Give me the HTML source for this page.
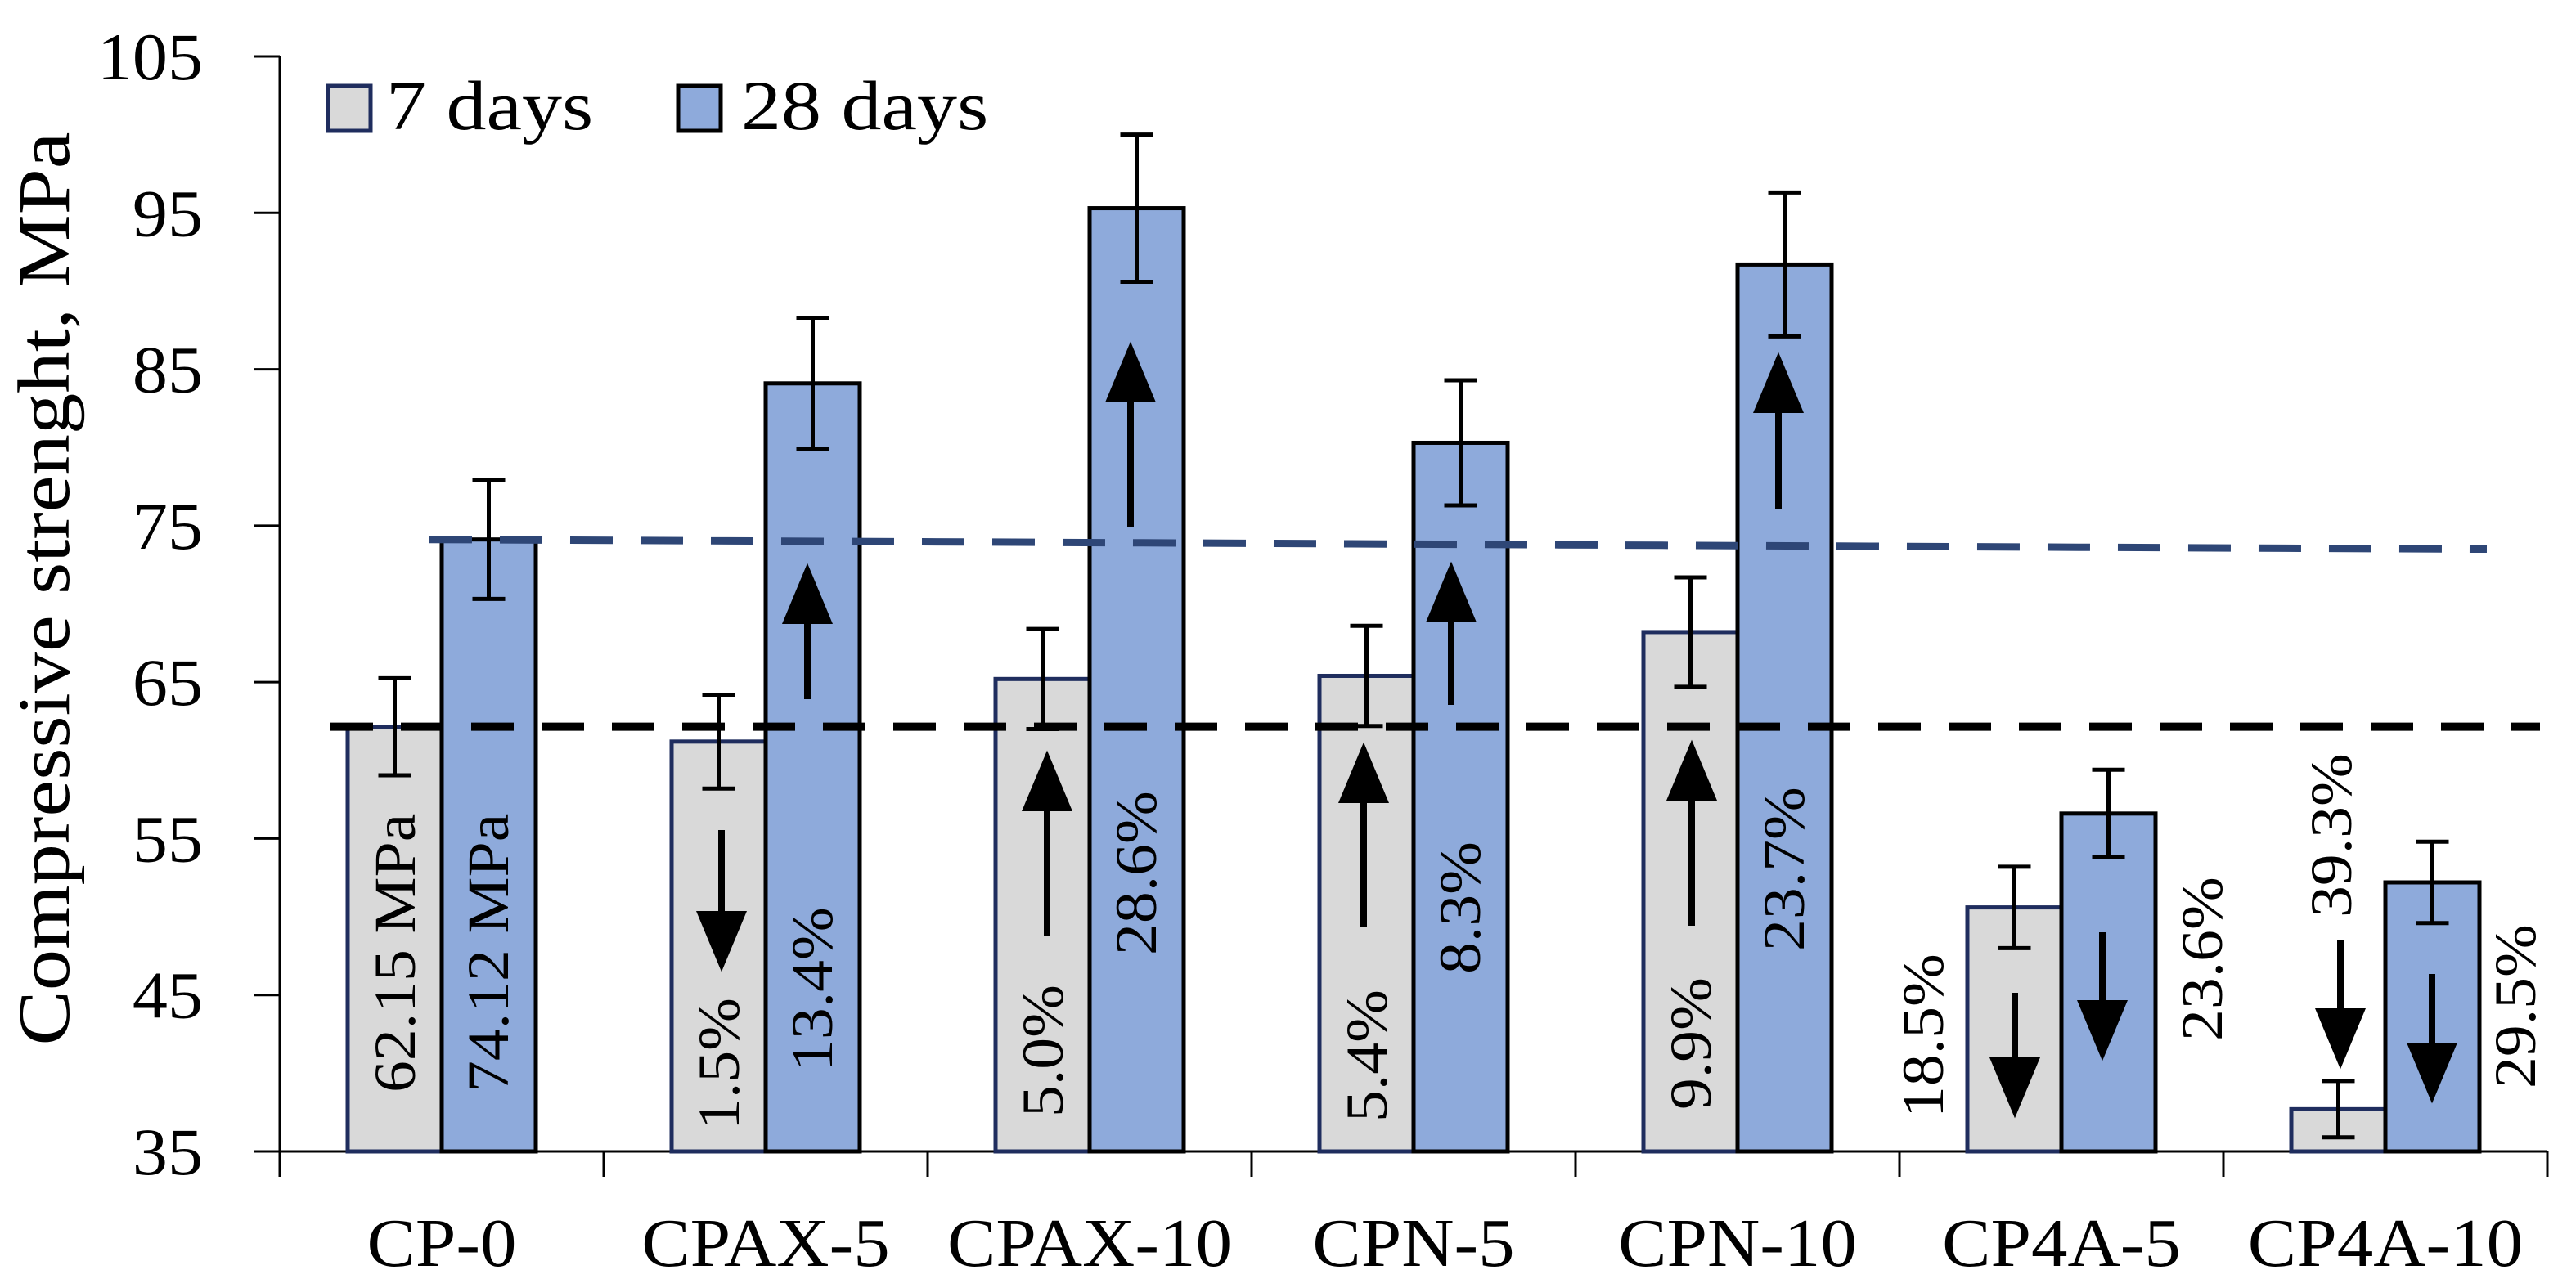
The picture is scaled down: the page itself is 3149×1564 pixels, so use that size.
<!DOCTYPE html>
<html><head><meta charset="utf-8"><style>
html,body{margin:0;padding:0;background:#fff;}
svg{display:block;font-family:"Liberation Serif",serif;}
</style></head><body>
<svg id="chart" width="3149" height="1564" viewBox="0 0 3149 1564" xmlns="http://www.w3.org/2000/svg">
<text transform="translate(84,720) rotate(-90) scale(1.12,1)" text-anchor="middle" font-size="90">Compressive  strenght, MPa</text>
<g>
<rect x="401" y="105" width="52" height="55" fill="#d9d9d9" stroke="#1f2d5e" stroke-width="5"/>
<text transform="translate(472,158) scale(1.14,1)" font-size="86">7 days</text>
<rect x="829" y="105" width="52" height="55" fill="#8eaadb" stroke="#000" stroke-width="5"/>
<text transform="translate(906,158) scale(1.14,1)" font-size="86">28 days</text>
</g>
<g id="plot"></g>
</svg>
<script>
const categories=["CP-0","CPAX-5","CPAX-10","CPN-5","CPN-10","CP4A-5","CP4A-10"];
const values7=[62.15,61.2,65.2,65.4,68.2,50.6,37.7];
const values28=[74.12,84.1,95.3,80.3,91.7,56.6,52.2];
const err7=[3.1,3.0,3.2,3.2,3.5,2.6,1.8];
const err28=[3.8,4.2,4.7,4.0,4.6,2.8,2.6];
const yTicks=[35,45,55,65,75,85,95,105];
const labels7=["62.15 MPa","1.5%","5.0%","5.4%","9.9%","18.5%","39.3%"];
const labels28=["74.12 MPa","13.4%","28.6%","8.3%","23.7%","23.6%","29.5%"];
const ref7=62.15, ref28Start=74.12, ref28End=73.5;

const NS="http://www.w3.org/2000/svg";
const g=document.getElementById('plot');
const X0=342, CW=396, BW=115, Y35=1408, PX=(1408-69)/70;
const y=v=>Y35-(v-35)*PX;
const cx=i=>X0+CW*i+CW/2;
function mk(tag,attrs,parent){const e=document.createElementNS(NS,tag);for(const k in attrs)e.setAttribute(k,attrs[k]);(parent||g).appendChild(e);return e;}

let ax=mk('line',{x1:X0,y1:69,x2:X0,y2:Y35,stroke:'#000','stroke-width':3});


yTicks.forEach(t=>{
  const l=mk('line',{x1:X0-31,x2:X0,y1:y(t),y2:y(t),stroke:'#000','stroke-width':3});
  
  
  const tx=mk('text',{transform:`translate(248,${y(t)+28}) scale(1.05,1)`,'text-anchor':'end','font-size':82});
  tx.textContent=t;
  
  
});
let xa=mk('line',{x1:X0,y1:Y35,x2:X0+CW*categories.length,y2:Y35,stroke:'#000','stroke-width':3});


for(let i=0;i<=categories.length;i++){
  const l=mk('line',{x1:X0+CW*i,x2:X0+CW*i,y1:Y35,y2:Y35+31,stroke:'#000','stroke-width':3});
  
  
}
categories.forEach((c,i)=>{
  const t=mk('text',{transform:`translate(${cx(i)},1548) scale(1.06,1)`,'text-anchor':'middle','font-size':84});
  t.textContent=c;
  
  
});
function bar(i,v,e,left,fill,stroke,name){
  const x=left?cx(i)-BW:cx(i);
  const r=mk('rect',{x:x,y:y(v),width:BW,height:Y35-y(v),fill:fill,stroke:stroke,'stroke-width':5});
  
  
  const m=x+BW/2;
  const eb=mk('path',{d:`M${m},${y(v+e)}V${y(v-e)}M${m-20},${y(v+e)}H${m+20}M${m-20},${y(v-e)}H${m+20}`,stroke:'#000','stroke-width':5,fill:'none'});
  
  
}
categories.forEach((c,i)=>{
  bar(i,values7[i],err7[i],true,'#d9d9d9','#1f2d5e','bar-7-days');
  bar(i,values28[i],err28[i],false,'#8eaadb','#000','bar-28-days');
});
let r1=mk('line',{x1:404,x2:3105,y1:y(ref7),y2:y(ref7),stroke:'#000','stroke-width':10,'stroke-dasharray':'52 34'});


let r2=mk('line',{x1:525,x2:3040,y1:y(ref28Start),y2:y(ref28End),stroke:'#2e4676','stroke-width':9,'stroke-dasharray':'52 34'});



const lab7pos=[[cx(0)-57,1336],[cx(1)-57,1382],[cx(2)-57,1366],[cx(3)-57,1372],[cx(4)-57,1357],[2351,1367],[2850,1122]];
const lab28pos=[[cx(0)+57,1336],[cx(1)+57,1310],[cx(2)+57,1168],[cx(3)+57,1191],[cx(4)+57,1163],[2692,1273],[3075,1331]];
function rlab(txt,p,name){
  const t=mk('text',{transform:`translate(${p[0]+24},${p[1]}) rotate(-90) scale(1.08,1)`,'font-size':72});
  t.textContent=txt;
  
  
}
labels7.forEach((s,i)=>rlab(s,lab7pos[i],'change-label-7-days'));
labels28.forEach((s,i)=>rlab(s,lab28pos[i],'change-label-28-days'));
const arrows=[[882,1015,1178],[987,855,699],[1280,1144,928],[1382,645,428],[1667,1134,918],[1774,862,697],[2068,1132,915],[2174,622,441],[2463,1214,1357],[2570,1140,1287],[2861,1150,1297],[2973,1191,1339]];
arrows.forEach(a=>{
  const [x,t,h]=a, d=h<t?1:-1, hb=h+d*60;
  const p=mk('path',{d:`M${x},${t}L${x},${hb}M${x-25},${hb}L${x},${h}L${x+25},${hb}Z`,stroke:'#000','stroke-width':8,fill:'#000','stroke-linejoin':'miter'});
  
  
});
</script>
</body></html>
